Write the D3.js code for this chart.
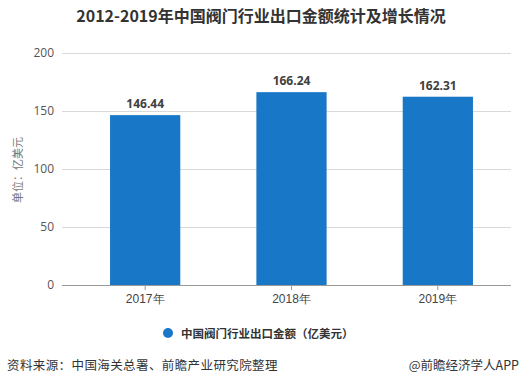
<!DOCTYPE html>
<html><head><meta charset="utf-8">
<script src="https://cdn.jsdelivr.net/npm/d3@7"></script>
<style>
body{margin:0;background:#fff;}
svg{display:block;font-family:"Microsoft YaHei","Noto Sans CJK SC","Noto Sans",sans-serif;}
</style></head><body>
<svg id="chart" width="525" height="386"></svg>
<script>
const categories = ["2017年", "2018年", "2019年"];
const values = [146.44, 166.24, 162.31];
const yTicks = [0, 50, 100, 150, 200];
const seriesName = "中国阀门行业出口金额（亿美元）";
const title = "2012-2019年中国阀门行业出口金额统计及增长情况";
const yTitle = "单位：亿美元";
const source = "资料来源：中国海关总署、前瞻产业研究院整理";
const credit = "@前瞻经济学人APP";

(function () {
const svg = d3.select("#chart");
const barColor = "#1877c6";
const plotL = 62, plotR = 511, plotT = 53, plotB = 285;

const x = d3.scaleBand().domain(categories).range([72, 511]).paddingInner(0.52).paddingOuter(0.26);
const y = d3.scaleLinear().domain([0, 200]).range([plotB, plotT]);

svg.append("text").attr("x", 261).attr("y", 22).attr("text-anchor", "middle")
  .attr("font-size", 16).attr("font-weight", "bold").attr("fill", "#333").text(title);

// grid
svg.append("g").selectAll("line").data(yTicks.filter(d => d > 0)).join("line")
  .attr("x1", plotL).attr("x2", plotR).attr("y1", d => y(d)).attr("y2", d => y(d))
  .attr("stroke", "#d9d9d9").attr("stroke-width", 1).attr("shape-rendering", "crispEdges");

const ya = svg.append("g").attr("transform", `translate(${plotL},0)`)
  .call(d3.axisLeft(y).tickValues(yTicks).tickSize(0).tickPadding(8));
ya.select(".domain").remove();
ya.selectAll("text").attr("font-size", 12).attr("fill", "#555").attr("font-family", "'Open Sans','Noto Sans',sans-serif");

svg.append("text").attr("transform", "translate(22,170) rotate(-90)").attr("text-anchor", "middle")
  .attr("font-size", 11).attr("fill", "#777").text(yTitle);

// bars
svg.append("g").selectAll("rect").data(values).join("rect")
  .attr("x", (d, i) => x(categories[i])).attr("width", x.bandwidth())
  .attr("y", d => y(d)).attr("height", d => y(0) - y(d)).attr("fill", barColor);

svg.append("g").selectAll("text").data(values).join("text")
  .attr("x", (d, i) => x(categories[i]) + x.bandwidth() / 2).attr("y", d => y(d) - 7)
  .attr("text-anchor", "middle").attr("font-size", 12).attr("font-weight", "bold")
  .attr("fill", "#404040").attr("font-family", "'Open Sans','Noto Sans',sans-serif")
  .text(d => d.toFixed(2));

// x axis
const xa = svg.append("g").attr("transform", `translate(0,${plotB})`)
  .call(d3.axisBottom(x).tickSize(5).tickSizeOuter(0).tickPadding(4));
xa.select(".domain").attr("d", `M${plotL},0.5H${plotR}`).attr("stroke", "#999");
xa.selectAll(".tick line").attr("stroke", "#999");
xa.selectAll("text").attr("font-size", 12).attr("fill", "#444");

// legend
svg.append("circle").attr("cx", 168).attr("cy", 333).attr("r", 5).attr("fill", barColor);
svg.append("text").attr("x", 181).attr("y", 337.5).attr("font-size", 11.5).attr("font-weight", "bold")
  .attr("fill", "#333").text(seriesName);

// footer
svg.append("text").attr("x", 7).attr("y", 370).attr("font-size", 12.5).attr("fill", "#333")
  .attr("letter-spacing", 0.4).text(source);
svg.append("text").attr("x", 519).attr("y", 370).attr("text-anchor", "end").attr("font-size", 12.5)
  .attr("fill", "#333").text(credit);
})();
</script>
</body></html>
